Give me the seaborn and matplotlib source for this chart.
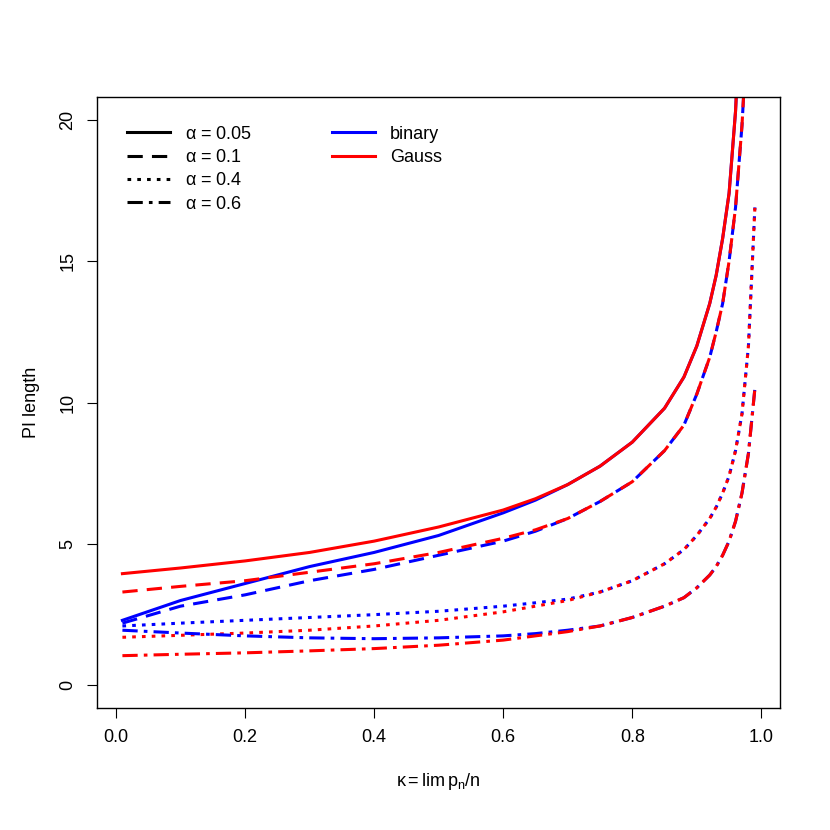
import matplotlib
matplotlib.use("Agg")
import matplotlib.pyplot as plt
from matplotlib.lines import Line2D
import seaborn as sns
import pandas as pd

plt.rcParams['font.family'] = ['Liberation Sans', 'DejaVu Sans']
plt.rcParams['mathtext.fontset'] = 'custom'
plt.rcParams['mathtext.rm'] = 'Liberation Sans'
plt.rcParams['mathtext.it'] = 'Liberation Sans'

# kappa grid (denser near 1)
kappa = [0.01, 0.1, 0.2, 0.3, 0.4, 0.5, 0.6, 0.65, 0.7, 0.75, 0.8, 0.85, 0.88, 0.9, 0.92, 0.93, 0.94, 0.95, 0.96, 0.97, 0.98, 0.99]

gauss_05 = [3.95, 4.15, 4.4, 4.7, 5.1, 5.6, 6.2, 6.6, 7.1, 7.75, 8.6, 9.8, 10.9, 12.0, 13.5, 14.5, 15.8, 17.4, 20.3, 25.0, 30.0, 36.0]
binary_05 = [2.3, 3.0, 3.6, 4.2, 4.7, 5.3, 6.1, 6.55, 7.1, 7.75, 8.6, 9.8, 10.9, 12.0, 13.5, 14.5, 15.8, 17.4, 20.3, 25.0, 30.0, 36.0]
gauss_10 = [3.3, 3.5, 3.7, 4.0, 4.3, 4.7, 5.2, 5.5, 5.9, 6.5, 7.2, 8.3, 9.2, 10.3, 11.6, 12.5, 13.5, 15.0, 16.9, 19.8, 24.0, 30.0]
binary_10 = [2.2, 2.8, 3.2, 3.7, 4.1, 4.6, 5.1, 5.45, 5.9, 6.5, 7.2, 8.3, 9.2, 10.3, 11.6, 12.5, 13.5, 15.0, 16.9, 19.8, 24.0, 30.0]
gauss_40 = [1.7, 1.77, 1.85, 1.95, 2.1, 2.3, 2.6, 2.8, 3.0, 3.3, 3.7, 4.3, 4.8, 5.3, 5.9, 6.3, 6.8, 7.4, 8.3, 9.6, 12.0, 16.9]
binary_40 = [2.1, 2.2, 2.3, 2.4, 2.5, 2.62, 2.8, 2.92, 3.05, 3.3, 3.7, 4.3, 4.8, 5.3, 5.9, 6.3, 6.8, 7.4, 8.3, 9.6, 12.0, 16.9]
gauss_60 = [1.05, 1.1, 1.15, 1.22, 1.3, 1.42, 1.6, 1.75, 1.9, 2.1, 2.4, 2.8, 3.1, 3.45, 3.9, 4.2, 4.6, 5.1, 5.8, 6.8, 8.2, 10.5]
binary_60 = [1.95, 1.85, 1.75, 1.68, 1.65, 1.68, 1.75, 1.83, 1.95, 2.1, 2.4, 2.8, 3.1, 3.45, 3.9, 4.2, 4.6, 5.1, 5.8, 6.8, 8.2, 10.5]

styles = {'0.05': '-', '0.1': (0, (5, 3)), '0.4': (0, (1.2, 2)), '0.6': (0, (5, 2, 1.2, 2))}
series = [
    ('0.05', 'binary', binary_05), ('0.05', 'Gauss', gauss_05),
    ('0.1', 'binary', binary_10), ('0.1', 'Gauss', gauss_10),
    ('0.4', 'binary', binary_40), ('0.4', 'Gauss', gauss_40),
    ('0.6', 'binary', binary_60), ('0.6', 'Gauss', gauss_60),
]
colors = {'binary': '#0000FF', 'Gauss': '#FF0000'}

fig = plt.figure(figsize=(8.3, 8.3), dpi=100)
ax = fig.add_axes([0.117, 0.147, 0.823, 0.736])

for alpha, kind, vals in series:
    df = pd.DataFrame({'kappa': kappa, 'len': vals})
    sns.lineplot(data=df, x='kappa', y='len', ax=ax, color=colors[kind],
                 linestyle=styles[alpha], linewidth=2.2, estimator=None, sort=False)

ax.set_xlim(-0.0292, 1.0292)
ax.set_ylim(-0.8, 20.8)
ax.set_xticks([0, 0.2, 0.4, 0.6, 0.8, 1.0])
ax.set_xticklabels(['0.0', '0.2', '0.4', '0.6', '0.8', '1.0'])
ax.set_yticks([0, 5, 10, 15, 20])
ax.tick_params(axis='both', direction='out', length=7, labelsize=13, pad=8)
for lab in ax.get_yticklabels():
    lab.set_rotation(90)
    lab.set_va('center')
for s in ax.spines.values():
    s.set_linewidth(1)
ax.set_xlabel(r'$\kappa = \mathrm{lim}\,p_n/n$', fontsize=13, labelpad=18)
ax.set_ylabel('PI length', fontsize=13, labelpad=14)

h1 = [Line2D([], [], color='black', linestyle=styles[a], linewidth=2.2) for a in styles]
l1 = [r'$\alpha$ = ' + a for a in styles]
leg1 = ax.legend(h1, l1, loc='upper left', bbox_to_anchor=(0.02, 0.98), frameon=False,
                 fontsize=13, handlelength=2.4, labelspacing=0.35)
ax.add_artist(leg1)
h2 = [Line2D([], [], color=colors[k], linewidth=2.2) for k in ['binary', 'Gauss']]
ax.legend(h2, ['binary', 'Gauss'], loc='upper left', bbox_to_anchor=(0.32, 0.98), frameon=False,
          fontsize=13, handlelength=2.4, labelspacing=0.35)

fig.savefig('out.png', dpi=100)
